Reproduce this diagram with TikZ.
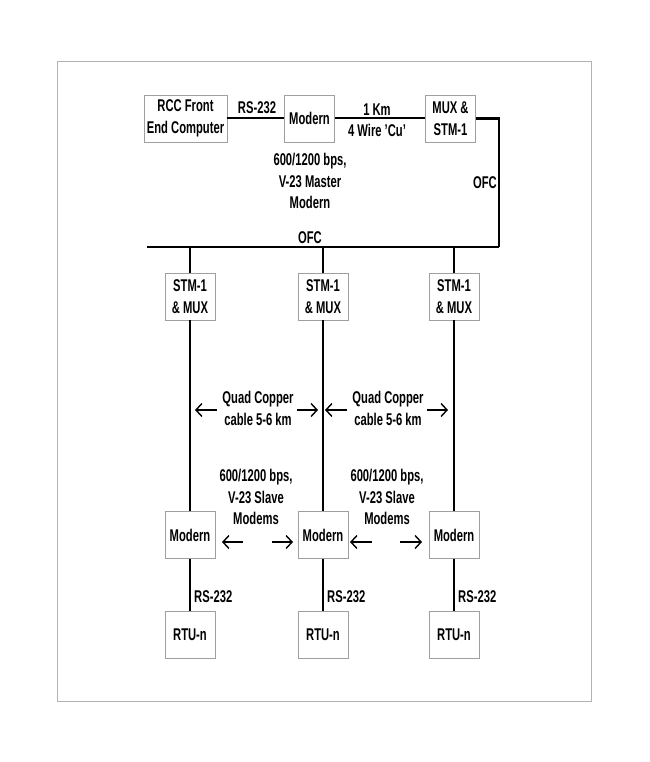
\documentclass[tikz,border=0pt]{standalone}
\usepackage{fontspec}
\setmainfont{Liberation Sans}[FakeStretch=0.66]
\usepackage{tikz}
\usetikzlibrary{positioning,arrows.meta,calc}

\tikzset{
	unitbox/.style={
		draw=gray!75,
		line width=0.8pt,
		align=center,
		minimum width=50pt,
		minimum height=47pt,
		inner sep=1pt
	},
	lbl/.style={align=center, inner sep=0pt},
	wire/.style={line width=2pt},
	drop/.style={line width=1.3pt},
	span/.style={-{Straight Barb[length=6pt,width=13pt]}, line width=1.4pt}
}

\begin{document}
\begin{tikzpicture}[
		x=1pt, y=-1pt,
		every node/.style={font=\fontsize{17}{21.5}\selectfont\bfseries}
		]
		
		\useasboundingbox (0,0) rectangle (649,762);
		\draw[gray!60, line width=1pt] (57,62) rectangle (591,701);
		
		% head end
		\node[unitbox, minimum width=83pt] (rcc) at (185.5,118.5) {RCC Front\\End Computer};
		\node[unitbox] (master) at (309.5,118.5) {Modern};
		\node[unitbox] (mux) at (450.5,118.5) {MUX \&\\STM-1};
		
		\node[lbl] (rsTop) at (257,108) {RS-232};
		\node[lbl] (cu) at (377,120) {1 Km\\4 Wire 'Cu'};
		\node[lbl] (masterTxt) at (310,181) {600/1200 bps,\\V-23 Master\\Modern};
		
		\coordinate (ofcTop) at (499,118.5);
		\coordinate (busR) at (499,247);
		\coordinate (busL) at (147,247);
		
		\draw[wire] (rcc)--(master);
		\draw[wire] (master)--(mux);
		\draw[line width=2.5pt] (mux.east)--(ofcTop)--(busR);
		\draw[line width=2.7pt] (busL)--(busR);
		
		\node[lbl, anchor=east] (ofcV) at (497,183) {OFC};
		\node[lbl] (ofcH) at (310,238) {OFC};
		
		% remote stations
		\foreach \n/\x in {a/190,b/323,c/454}{
			\node[unitbox] (stm\n) at (\x,296.5) {STM-1\\\& MUX};
			\node[unitbox] (slave\n) at (\x,535) {Modern};
			\node[unitbox] (rtu\n) at (\x,635) {RTU-n};
			\node[lbl, anchor=west] (rs\n) at (\x+4,597) {RS-232};
			\draw[drop] (stm\n.north |- busR)--(stm\n.north);
			\draw[drop] (stm\n)--(slave\n);
			\draw[drop] (slave\n)--(rtu\n);
		}
		
		\node[lbl] (quadA) at (258,408.5) {Quad Copper\\cable 5-6 km};
		\node[lbl] (quadB) at (388,408.5) {Quad Copper\\cable 5-6 km};
		\node[lbl] (slaveTxtA) at (256,497) {600/1200 bps,\\V-23 Slave\\Modems};
		\node[lbl] (slaveTxtB) at (387,497) {600/1200 bps,\\V-23 Slave\\Modems};
		
		% span arrows
		\foreach \a/\b in {217/195,297/318,347/325,427/448}{
			\coordinate (qs) at (\a,410);
			\coordinate (qe) at (\b,410);
			\draw[span] (qs)--(qe);
		}
		\foreach \a/\b in {243/222,272/293,372/350,400/422}{
			\coordinate (ms) at (\a,542);
			\coordinate (me) at (\b,542);
			\draw[span] (ms)--(me);
		}
		
	\end{tikzpicture}
\end{document}
